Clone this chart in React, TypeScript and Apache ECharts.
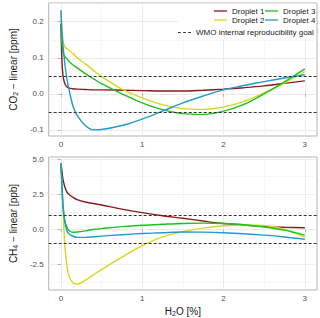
import React, { useEffect, useRef } from 'react';
import * as echarts from 'echarts';

// H2O concentration [%] at which the curves are sampled
const h2o = [0, 0.01, 0.02, 0.03, 0.05, 0.075, 0.1, 0.15, 0.2, 0.3, 0.4, 0.5, 0.75, 1, 1.25, 1.5, 1.75, 2, 2.25, 2.5, 2.75, 3];

const dropletNames = ['Droplet 1', 'Droplet 2', 'Droplet 3', 'Droplet 4'];
const wmoName = 'WMO internal reproducibility goal';

// CO2 - linear [ppm]
const co2Droplet1 = [0.195, 0.11, 0.065, 0.045, 0.027, 0.019, 0.016, 0.014, 0.013, 0.012, 0.011, 0.011, 0.010, 0.009, 0.008, 0.008, 0.010, 0.013, 0.017, 0.022, 0.029, 0.036];
const co2Droplet2 = [0.232, 0.19, 0.16, 0.142, 0.13, 0.125, 0.121, 0.112, 0.1, 0.083, 0.065, 0.048, 0.013, -0.011, -0.030, -0.041, -0.043, -0.037, -0.021, 0.003, 0.030, 0.062];
const co2Droplet3 = [0.19, 0.15, 0.125, 0.112, 0.103, 0.097, 0.09, 0.08, 0.072, 0.056, 0.042, 0.028, 0.0, -0.025, -0.044, -0.055, -0.057, -0.048, -0.029, 0.0, 0.033, 0.069];
const co2Droplet4 = [0.232, 0.185, 0.15, 0.125, 0.08, 0.04, 0.012, -0.035, -0.06, -0.088, -0.1, -0.099, -0.088, -0.07, -0.048, -0.025, -0.006, 0.011, 0.023, 0.034, 0.044, 0.053];

// CH4 - linear [ppb]
const ch4Droplet1 = [4.71, 4.3, 3.8, 3.45, 3.0, 2.65, 2.48, 2.28, 2.12, 1.95, 1.85, 1.74, 1.45, 1.2, 0.98, 0.8, 0.6, 0.42, 0.31, 0.22, 0.16, 0.12];
const ch4Droplet2 = [4.71, 3.4, 2.0, 0.9, -1.2, -2.6, -3.3, -3.8, -3.89, -3.6, -3.22, -2.85, -1.97, -1.15, -0.53, -0.15, 0.1, 0.26, 0.32, 0.28, 0.0, -0.55];
const ch4Droplet3 = [4.71, 3.5, 2.3, 1.5, 0.6, 0.15, -0.07, -0.2, -0.18, -0.1, 0.0, 0.06, 0.2, 0.3, 0.37, 0.43, 0.45, 0.42, 0.34, 0.18, -0.05, -0.4];
const ch4Droplet4 = [4.71, 3.5, 2.3, 1.4, 0.45, -0.1, -0.3, -0.48, -0.56, -0.56, -0.52, -0.47, -0.37, -0.29, -0.23, -0.18, -0.19, -0.23, -0.3, -0.4, -0.53, -0.69];

// WMO goal (+/-)
const wmoCO2 = [-0.05, 0.05];
const wmoCH4 = [-1, 1];

// tick values
const xTicks = [0, 1, 2, 3];
const co2Ticks = [-0.1, 0, 0.1, 0.2];
const ch4Ticks = [-2.5, 0, 2.5, 5];

const colors = ['#8b1a1a', '#d6d622', '#1cc21c', '#1f9bd2'];
const FONT = '"Liberation Sans", Arial, Helvetica, sans-serif';

const co2Data = [co2Droplet1, co2Droplet2, co2Droplet3, co2Droplet4];
const ch4Data = [ch4Droplet1, ch4Droplet2, ch4Droplet3, ch4Droplet4];

const SOLID_ICON = 'path://M0,0h14v1.4h-14z';
const DASH_ICON = 'path://M0,0h3v1h-3z M5.5,0h3v1h-3z M11,0h3v1h-3z';

function xAxis(gridIndex: number, withName: boolean) {
  return {
    type: 'value',
    gridIndex,
    min: -0.15,
    max: 3.15,
    splitNumber: 3,
    axisLine: { show: false },
    axisTick: { show: true, length: 3, lineStyle: { color: '#b3b3b3', width: 1 }, customValues: xTicks },
    axisLabel: { customValues: xTicks, color: '#4d4d4d', fontSize: 8, margin: 4, fontFamily: FONT, formatter: (v: number) => String(v) },
    splitLine: { show: true, lineStyle: { color: '#e6e6e6', width: 0.8 } },
    minorTick: { show: false, splitNumber: 2 },
    minorSplitLine: { show: true, lineStyle: { color: '#f1f1f1', width: 0.6 } },
    name: withName ? '{a|H}{s|2}{a|O [%]}' : '',
    nameLocation: 'middle',
    nameGap: 15,
    nameTextStyle: {
      color: '#1a1a1a',
      fontFamily: FONT,
      fontSize: 10,
      rich: {
        a: { fontSize: 10, color: '#1a1a1a', fontFamily: FONT },
        s: { fontSize: 7, color: '#1a1a1a', fontFamily: FONT, padding: [5, 0, 0, 0] },
      },
    },
  };
}

function yAxis(gridIndex: number, min: number, max: number, splitNumber: number, minorSplit: number, ticks: number[], name: string) {
  return {
    type: 'value',
    gridIndex,
    min,
    max,
    splitNumber,
    axisLine: { show: false },
    axisTick: { show: true, length: 3, lineStyle: { color: '#b3b3b3', width: 1 }, customValues: ticks },
    axisLabel: { customValues: ticks, color: '#4d4d4d', fontSize: 8, margin: 5, fontFamily: FONT, formatter: (v: number) => v.toFixed(1) },
    splitLine: { show: true, lineStyle: { color: '#e6e6e6', width: 0.8 } },
    minorTick: { show: false, splitNumber: minorSplit },
    minorSplitLine: { show: true, lineStyle: { color: '#f1f1f1', width: 0.6 } },
    name,
    nameLocation: 'middle',
    nameRotate: 90,
    nameGap: 23,
    nameTextStyle: {
      color: '#1a1a1a',
      fontFamily: FONT,
      fontSize: 10,
      rich: {
        a: { fontSize: 10, color: '#1a1a1a', fontFamily: FONT },
        s: { fontSize: 7, color: '#1a1a1a', fontFamily: FONT, padding: [5, 0, 0, 0] },
      },
    },
  };
}

function legendItem(name: string, left: number, top: number, icon: string) {
  return {
    show: true,
    data: [{ name, icon }],
    left,
    top,
    padding: 0,
    itemWidth: 13,
    itemHeight: 1.4,
    itemGap: 0,
    selectedMode: false,
    textStyle: { fontSize: 8, color: '#1a1a1a', fontFamily: FONT },
  };
}

export default function App() {
  const ref = useRef<HTMLDivElement>(null);

  useEffect(() => {
    if (!ref.current) return;
    const chart = echarts.init(ref.current, undefined, { renderer: 'svg' });

    const series: any[] = [];
    const panels = [
      { data: co2Data, wmo: wmoCO2 },
      { data: ch4Data, wmo: wmoCH4 },
    ];
    panels.forEach((p, gi) => {
      p.data.forEach((vals, i) => {
        series.push({
          type: 'line',
          name: dropletNames[i],
          xAxisIndex: gi,
          yAxisIndex: gi,
          data: h2o.map((x, k) => [x, vals[k]]),
          showSymbol: false,
          symbol: 'none',
          smooth: 0.35,
          lineStyle: { color: colors[i], width: 1.4 },
          itemStyle: { color: colors[i] },
          z: 3,
        });
      });
      series.push({
        type: 'line',
        name: wmoName,
        xAxisIndex: gi,
        yAxisIndex: gi,
        data: [],
        symbol: 'none',
        lineStyle: { color: '#333333', width: 1, type: [3, 2] },
        itemStyle: { color: '#333333' },
        markLine: {
          silent: true,
          symbol: ['none', 'none'],
          label: { show: false },
          lineStyle: { color: '#333333', width: 1, type: [3, 2] },
          data: p.wmo.map((v) => ({ yAxis: v })),
        },
        z: 2,
      });
    });

    chart.setOption({
      animation: false,
      backgroundColor: '#ffffff',
      textStyle: { fontFamily: FONT },
      grid: [
        { left: 37, right: 3, top: 3, height: 133, show: true, borderColor: '#b3b3b3', borderWidth: 1, backgroundColor: '#ffffff' },
        { left: 37, right: 3, top: 157, height: 133, show: true, borderColor: '#b3b3b3', borderWidth: 1, backgroundColor: '#ffffff' },
      ],
      xAxis: [xAxis(0, false), xAxis(1, true)],
      yAxis: [
        yAxis(0, -0.117, 0.252, 4, 2, co2Ticks, '{a|CO}{s|2}{a| \u2212 linear [ppm]}'),
        yAxis(1, -4.3, 5.15, 2, 4, ch4Ticks, '{a|CH}{s|4}{a| \u2212 linear [ppb]}'),
      ],
      graphic: [
        { type: 'rect', shape: { x: 178, y: 4, width: 138, height: 35 }, style: { fill: '#ffffff' }, z: 1, silent: true },
      ],
      legend: [
        legendItem('Droplet 1', 214, 7, SOLID_ICON),
        legendItem('Droplet 3', 265, 7, SOLID_ICON),
        legendItem('Droplet 2', 214, 16, SOLID_ICON),
        legendItem('Droplet 4', 265, 16, SOLID_ICON),
        legendItem(wmoName, 178, 28.5, DASH_ICON),
      ],
      series,
    });

    return () => chart.dispose();
  }, []);

  return <div ref={ref} style={{ position: 'fixed', left: 0, top: 0, width: 320, height: 318 }} />;
}
